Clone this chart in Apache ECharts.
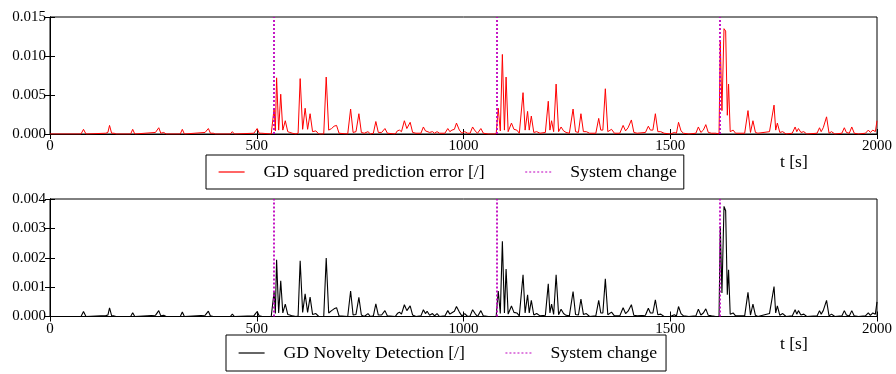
<!DOCTYPE html>
<html>
<head>
<meta charset="utf-8">
<script src="https://cdn.jsdelivr.net/npm/echarts@6/dist/echarts.min.js"></script>
<style>html,body{margin:0;padding:0;background:#fff;}#c{width:896px;height:374px;}</style>
</head>
<body>
<div id="c"></div>
<script>
// time stamps [s]
const times = [
  0,75,81,87,135,140,144,149,155,160, 195,200,205,255,263,268,275,281,315,320,
  325,375,383,388,395,400,436,441,446,493, 497,501,506,512,535,539,
  542,545,548,553,558,563,569,575,580,586, 595,600,605,611,617,623,629,635,643,650,
  662,668,674,681,687,693,699,720,727,733, 740,747,753,760,769,775,782,788,794,802,
  810,816,835,840,845,850,857,863,867,871, 877,885,897,903,908,912,918,925,930,936,
  942,955,962,967,972,978,983,990,996,1003, 1010,1016,1022,1028,1034,1042,1048,1060,1079,
  1084,1089,1094,1099,1103,1108,1116,1122,1129,1135, 1139,1144,1149,1155,1159,1164,1170,1177,1185,1198,
  1205,1209,1213,1218,1224,1230,1236,1242,1248,1256, 1265,1271,1278,1284,1290,1297,1305,1320,1327,1332,
  1337,1343,1349,1358,1365,1378,1386,1392,1398,1406, 1412,1420,1440,1447,1452,1458,1464,1470,1477,1485,
  1500,1510,1515,1520,1526,1532,1545,1562,1568,1574, 1580,1586,1592,1600,1610,1618,
  1621,1625,1630,1634,1638,1641,1645,1652,1658,1680, 1688,1694,1700,1706,1712,1740,1751,1755,1759,1765,
  1772,1780,1795,1802,1806,1810,1816,1823,1830,1855, 1861,1865,1870,1878,1884,1890,1898,1915,1921,1926,
  1933,1939,1945,1955,1972,1979,1984,1990,1996,2000
];
// GD squared prediction error [/]
const errorValues = [
  0,0,0.0006,0,0.0001,0.0002,0.0011,0.0001,0.0001,0, 0,0.0006,0,0.0002,0.0008,0.0001,0.0002,0,0,0.0006,
  0,0.0002,0.0007,0.0001,0.0001,0,0,0.0003,0,0.0001, 0.0004,0.0007,0.0001,0.0001,0,0,
  0.0033,0.0004,0.0072,0.0005,0.0051,0.0005,0.0017,0.0003,0.0002,0.0001, 0,0.0001,0.0071,0.0006,0.0033,0.0006,0.0026,0.0003,0.0004,0,
  0,0.0073,0.0005,0.0007,0.0010,0.0011,0.0001,0,0.0032,0.0002, 0.0003,0.0026,0.0002,0.0001,0.0003,0,0.0001,0.0016,0.0002,0.0002,
  0.0007,0.0001,0,0.0004,0.0005,0.0003,0.0017,0.0007,0.0009,0.0015, 0.0002,0.0001,0.0001,0.0009,0.0004,0.0006,0.0002,0.0003,0.0001,0.0003,
  0.0001,0.0001,0.0007,0.0003,0.0005,0.0006,0.0014,0.0005,0.0001,0.0003, 0.0001,0.0001,0.0009,0.0004,0.0001,0.0007,0.0001,0,0,
  0.0033,0.0004,0.0102,0.0005,0.0073,0.0003,0.0014,0.0006,0.0005,0.0001, 0.0001,0.0053,0.0005,0.0029,0.0005,0.0023,0.0002,0.0003,0.0001,0.0002,
  0.0042,0.0005,0.0017,0.0003,0.0064,0.0003,0.0009,0.0004,0.0002,0.0001, 0.0032,0.0003,0.0002,0.0026,0.0003,0.0003,0.0001,0.0001,0.0020,0.0005,
  0.0005,0.0058,0.0003,0.0006,0.0001,0.0001,0.0011,0.0004,0.0008,0.0018, 0.0002,0.0001,0.0002,0.0010,0.0005,0.0005,0.0026,0.0003,0.0003,0.0001,
  0,0.0002,0.0001,0.0015,0.0004,0.0001,0,0.0001,0.0009,0.0002, 0.0005,0.0012,0.0002,0.0001,0.0001,0,
  0.0118,0.0030,0.0135,0.0132,0.0024,0.0064,0.0003,0.0005,0.0001,0.0001, 0.0030,0.0002,0.0017,0.0002,0.0001,0.0003,0.0037,0.0005,0.0014,0.0002,
  0.0003,0,0.0001,0.0009,0.0003,0.0007,0.0002,0.0003,0,0.0001, 0.0008,0.0003,0.0008,0.0022,0.0001,0.0003,0,0.0001,0.0008,0.0002,
  0.0001,0.0009,0.0001,0,0.0001,0.0005,0.0002,0.0005,0.0003,0.0017
];
// GD Novelty Detection [/]
const noveltyValues = [
  0,0,0.00017,0,0.00003,0.00005,0.00029,0.00003,0.00002,0, 0,0.00013,0,0.00004,0.0002,0.00002,0.00004,0,0,0.00015,
  0,0.00004,0.00018,0.00002,0,0,0,0.00008,0,0.00002, 0.0001,0.00017,0.00002,0.00001,0,0,
  0.00085,0.0001,0.00193,0.00012,0.00122,0.00012,0.00042,0.00007,0.00005,0.00002, 0,0.00002,0.0019,0.00014,0.00077,0.00014,0.00066,0.00007,0.0001,0,
  0,0.00199,0.00012,0.0002,0.00026,0.0003,0.00002,0,0.00087,0.00005, 0.00007,0.00065,0.00005,0,0.0001,0,0.00002,0.00043,0.00005,0.00005,
  0.0002,0.00002,0,0.0001,0.00015,0.00008,0.0004,0.0002,0.00025,0.00036, 0.00005,0,0.00002,0.00023,0.0001,0.00018,0.00004,0.0001,0.00002,0.0001,
  0,0.00002,0.0002,0.00008,0.00013,0.00018,0.00034,0.00015,0.00002,0.0001, 0,0.00002,0.00023,0.0001,0,0.0002,0.00002,0,0,
  0.00087,0.0001,0.00256,0.00012,0.00162,0.00008,0.00036,0.00014,0.00012,0.00002, 0.00002,0.00142,0.00012,0.00074,0.00012,0.00055,0.00005,0.0001,0.00002,0.00004,
  0.00111,0.00012,0.00042,0.00007,0.00142,0.00006,0.00025,0.0001,0.00004,0.00002, 0.00085,0.00007,0.00005,0.00059,0.00007,0.0001,0,0.00002,0.00055,0.00012,
  0.00012,0.00128,0.00006,0.00015,0.00002,0.00002,0.0003,0.0001,0.00018,0.0004, 0.00004,0.00002,0.00004,0.00028,0.00012,0.00012,0.00057,0.00006,0.00008,0,
  0,0.00006,0.00002,0.00034,0.0001,0.00002,0,0.00002,0.00025,0.00005, 0.00012,0.00026,0.00004,0.00002,0,0,
  0.00307,0.0008,0.00375,0.0036,0.00074,0.00159,0.00008,0.00012,0.00002,0.00002, 0.00082,0.00005,0.00042,0.00004,0,0.0001,0.00102,0.00012,0.00036,0.00004,
  0.0001,0,0.00002,0.00023,0.00008,0.0002,0.00005,0.00008,0,0.00002, 0.0002,0.00008,0.0002,0.00055,0.00002,0.00008,0,0.00002,0.0002,0.00005,
  0.00002,0.0002,0.00002,0,0.00002,0.00012,0.00004,0.00012,0.00008,0.0005
];
const changeTimes = [540, 1080, 1620];
const errorName = 'GD squared prediction error [/]';
const noveltyName = 'GD Novelty Detection [/]';
const changeName = 'System change';

const FONT = 'Liberation Serif';
const chart = echarts.init(document.getElementById('c'), null, {renderer: 'canvas'});
const errData = times.map((t, i) => [t, errorValues[i]]);
const novData = times.map((t, i) => [t, noveltyValues[i]]);

function xMain(grid) {
  return {
    type: 'value', gridIndex: grid, min: 0, max: 2000, interval: 500, position: 'bottom',
    axisLine: {show: true, lineStyle: {color: '#000', width: 1}},
    axisTick: {show: true, inside: true, length: 5, lineStyle: {color: '#000'}},
    axisLabel: {show: true, margin: 5, color: '#000', fontFamily: FONT, fontSize: 15,
      formatter: v => String(v)},
    splitLine: {show: false},
    name: 't [s]', nameLocation: 'end', nameGap: -97,
    nameTextStyle: {fontFamily: FONT, fontSize: 17.5, color: '#000', verticalAlign: 'top', padding: [19, 0, 0, 0]}
  };
}
function xTop(grid) {
  return {
    type: 'value', gridIndex: grid, min: 0, max: 2000, interval: 500, position: 'top',
    axisLine: {show: true, lineStyle: {color: '#000', width: 1}},
    axisTick: {show: true, inside: true, length: 5, lineStyle: {color: '#000'}},
    axisLabel: {show: false}, splitLine: {show: false}
  };
}
function yMain(grid, max, interval) {
  return {
    type: 'value', gridIndex: grid, min: 0, max: max, interval: interval, position: 'left',
    axisLine: {show: true, lineStyle: {color: '#000', width: 1}},
    axisTick: {show: true, inside: true, length: 5, lineStyle: {color: '#000'}},
    axisLabel: {show: true, margin: 4, color: '#000', fontFamily: FONT, fontSize: 15,
      formatter: v => v.toFixed(3)},
    splitLine: {show: false}
  };
}
function yRight(grid, max, interval) {
  return {
    type: 'value', gridIndex: grid, min: 0, max: max, interval: interval, position: 'right',
    axisLine: {show: true, lineStyle: {color: '#000', width: 1}},
    axisTick: {show: true, inside: true, length: 5, lineStyle: {color: '#000'}},
    axisLabel: {show: false}, splitLine: {show: false}
  };
}
function changeSeries(xi, yi) {
  return {
    name: changeName, type: 'line', xAxisIndex: xi, yAxisIndex: yi, data: [],
    symbol: 'none', color: '#bf00bf',
    lineStyle: {color: '#bf00bf', type: [2, 2], width: 1.5},
    markLine: {
      silent: true, symbol: ['none', 'none'], label: {show: false}, animation: false,
      lineStyle: {color: '#bf00bf', type: [2, 2], width: 1.8},
      emphasis: {disabled: true},
      data: changeTimes.map(t => ({xAxis: t}))
    },
    z: 5
  };
}
function legend(left, top, names, pad) {
  return {
    left: left, top: top, orient: 'horizontal',
    borderColor: '#000', borderWidth: 1, borderRadius: 0,
    padding: pad, itemWidth: 26, itemHeight: 14, itemGap: 40,
    itemStyle: {opacity: 0},
    lineStyle: {width: 1.2},
    textStyle: {fontFamily: FONT, fontSize: 17.7, color: '#000', padding: [0, 0, 0, 14]},
    selectedMode: false,
    data: names
  };
}

chart.setOption({
  animation: false,
  backgroundColor: '#fff',
  grid: [
    {left: 50, top: 17, width: 827, height: 117, show: true, borderColor: '#000', borderWidth: 1},
    {left: 50, top: 199, width: 827, height: 117.5, show: true, borderColor: '#000', borderWidth: 1}
  ],
  xAxis: [xMain(0), xTop(0), xMain(1), xTop(1)],
  yAxis: [yMain(0, 0.015, 0.005), yRight(0, 0.015, 0.005), yMain(1, 0.004, 0.001), yRight(1, 0.004, 0.001)],
  legend: [
    legend(206, 155, [errorName, changeName], [8, 7, 8, 12]),
    legend(226, 335, [noveltyName, changeName], [9, 9, 9, 12])
  ],
  series: [
    {name: errorName, type: 'line', xAxisIndex: 0, yAxisIndex: 0, data: errData,
     symbol: 'none', color: '#ff0000', lineStyle: {color: '#ff0000', width: 1}, z: 3},
    changeSeries(0, 0),
    {name: noveltyName, type: 'line', xAxisIndex: 2, yAxisIndex: 2, data: novData,
     symbol: 'none', color: '#000000', lineStyle: {color: '#000000', width: 1.1}, z: 3},
    changeSeries(2, 2)
  ]
});
</script>
</body>
</html>
